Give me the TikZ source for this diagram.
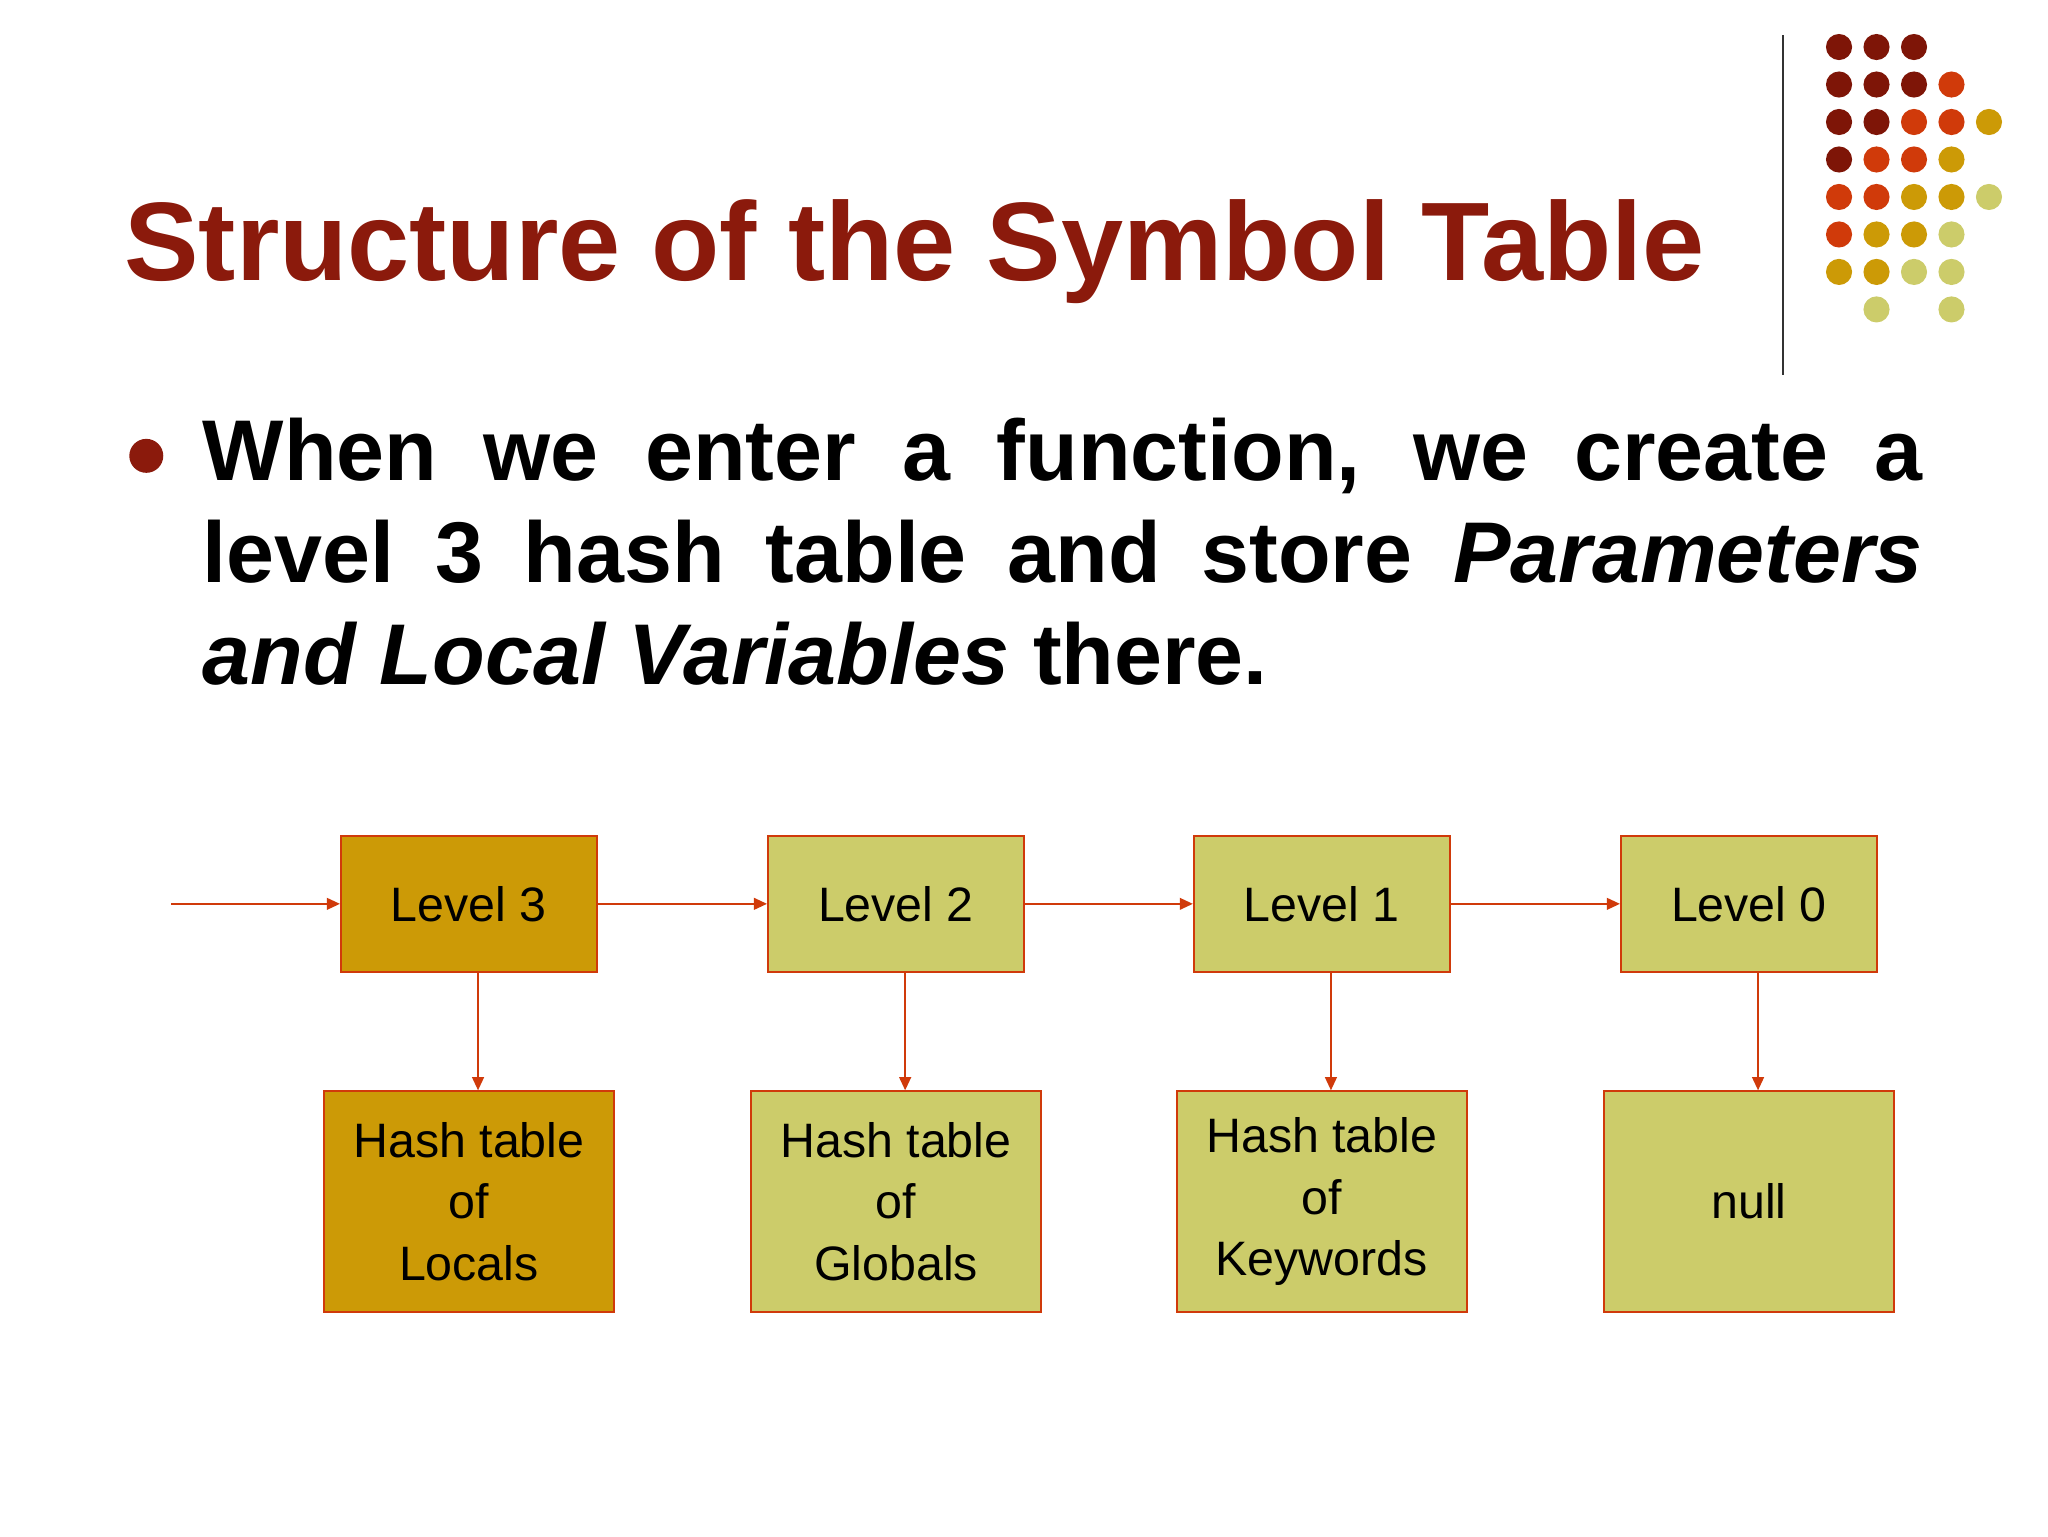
\documentclass[tikz,border=0pt]{standalone}
\usepackage{fontspec}
\setmainfont{Liberation Sans}
\usetikzlibrary{arrows.meta}
\definecolor{dkred}{HTML}{7E1507}
\definecolor{ttl}{HTML}{8B1A0C}
\definecolor{orng}{HTML}{D03A0A}
\definecolor{gold}{HTML}{CC9A06}
\definecolor{lite}{HTML}{CCCC6A}
\tikzset{
 lvl/.style={draw=orng,line width=1.5pt,minimum width=196pt,minimum height=104pt,font=\fontsize{37}{44}\selectfont,inner sep=0pt},
 tbl/.style={draw=orng,line width=1.5pt,minimum width=222pt,minimum height=169pt,font=\fontsize{37}{47}\selectfont,align=center,inner sep=0pt},
 arr/.style={draw=orng,line width=1.3pt,-{Triangle[length=10pt,width=9pt]}},
 dot/.style={circle,inner sep=0pt,minimum size=20pt}
}
\begin{document}
\begin{tikzpicture}[x=1pt,y=-1pt]
\useasboundingbox (0,0) rectangle (1568,1176);
% dots
\def\dotrow#1#2{\foreach \c/\col in {#2} {\node[dot,fill=\col] at ({1408+28.7*\c},{36+28.7*#1}) {};}}
\dotrow{0}{0/dkred,1/dkred,2/dkred}
\dotrow{1}{0/dkred,1/dkred,2/dkred,3/orng}
\dotrow{2}{0/dkred,1/dkred,2/orng,3/orng,4/gold}
\dotrow{3}{0/dkred,1/orng,2/orng,3/gold}
\dotrow{4}{0/orng,1/orng,2/gold,3/gold,4/lite}
\dotrow{5}{0/orng,1/gold,2/gold,3/lite}
\dotrow{6}{0/gold,1/gold,2/lite,3/lite}
\dotrow{7}{1/lite,3/lite}
\draw[line width=1.5pt,black!80] (1365,27) -- (1365,287);
% title
\node[anchor=base west,inner sep=0pt,text=ttl,font=\fontsize{85.5}{86}\selectfont\bfseries] (title) at (95,215) {Structure of the Symbol Table};
% bullet
\node[circle,fill=ttl,inner sep=0pt,minimum size=26pt] (bul) at (112,349) {};
\node[anchor=base west,inner sep=0pt,text width=1317pt,align=justify,font=\fontsize{66}{78}\selectfont\bfseries] (txt) at (155,368) {When we enter a function, we create a\linebreak level 3 hash table and store \textit{Parameters}\linebreak \textit{and Local Variables} there.};
% boxes
\node[lvl,fill=gold] (l3) at (359,692) {Level 3};
\node[lvl,fill=lite] (l2) at (686,692) {Level 2};
\node[lvl,fill=lite] (l1) at (1012,692) {Level 1};
\node[lvl,fill=lite] (l0) at (1339,692) {Level 0};
\node[tbl,fill=gold] (h3) at (359,920) {Hash table\\of\\Locals};
\node[tbl,fill=lite] (h2) at (686,920) {Hash table\\of\\Globals};
\node[tbl,fill=lite] (h1) at (1012,920) {Hash table\\of\\Keywords};
\node[tbl,fill=lite] (h0) at (1339,920) {null};
\coordinate (start) at (131,692);
\draw[arr] (start) -- (l3.west);
\draw[arr] (l3) -- (l2);
\draw[arr] (l2) -- (l1);
\draw[arr] (l1) -- (l0);
\foreach \a/\b in {l3/h3,l2/h2,l1/h1,l0/h0} \draw[arr] ([xshift=7pt]\a.south) -- ([xshift=7pt]\b.north);
\end{tikzpicture}
\end{document}
